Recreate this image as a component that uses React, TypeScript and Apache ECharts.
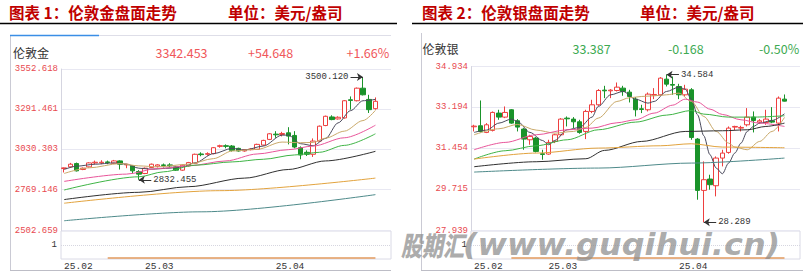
import React, { useEffect, useRef } from 'react';
import * as echarts from 'echarts';

const MONO = '"Liberation Mono", "DejaVu Sans Mono", monospace';
const CJK = '"Noto Sans CJK SC", "Noto Sans", sans-serif';

// ---------- categories (trading days) ----------
const goldDates = [
  '2025-02-12', '2025-02-13', '2025-02-14', '2025-02-17', '2025-02-18', '2025-02-19', '2025-02-20',
  '2025-02-21', '2025-02-24', '2025-02-25', '2025-02-26', '2025-02-27', '2025-02-28',
  '2025-03-03', '2025-03-04', '2025-03-05', '2025-03-06', '2025-03-07', '2025-03-10', '2025-03-11',
  '2025-03-12', '2025-03-13', '2025-03-14', '2025-03-17', '2025-03-18', '2025-03-19', '2025-03-20',
  '2025-03-21', '2025-03-24', '2025-03-25', '2025-03-26', '2025-03-27', '2025-03-28', '2025-03-31',
  '2025-04-01', '2025-04-02', '2025-04-03', '2025-04-04', '2025-04-07', '2025-04-08', '2025-04-09',
  '2025-04-10', '2025-04-11', '2025-04-14', '2025-04-15', '2025-04-16', '2025-04-17', '2025-04-21',
  '2025-04-22', '2025-04-23', '2025-04-24',
];
const silverDates = [
  '2025-02-13', '2025-02-14', '2025-02-17', '2025-02-18', '2025-02-19', '2025-02-20', '2025-02-21',
  '2025-02-24', '2025-02-25', '2025-02-26', '2025-02-27', '2025-02-28',
  '2025-03-03', '2025-03-04', '2025-03-05', '2025-03-06', '2025-03-07', '2025-03-10', '2025-03-11',
  '2025-03-12', '2025-03-13', '2025-03-14', '2025-03-17', '2025-03-18', '2025-03-19', '2025-03-20',
  '2025-03-21', '2025-03-24', '2025-03-25', '2025-03-26', '2025-03-27', '2025-03-28', '2025-03-31',
  '2025-04-01', '2025-04-02', '2025-04-03', '2025-04-04', '2025-04-07', '2025-04-08', '2025-04-09',
  '2025-04-10', '2025-04-11', '2025-04-14', '2025-04-15', '2025-04-16', '2025-04-17', '2025-04-18',
  '2025-04-21', '2025-04-22', '2025-04-23', '2025-04-24',
];
const padCats = ['pad-1', 'pad-2'];

// ---------- candles: [open, close, low, high] ----------
const goldOHLC = [
  [2905.6, 2909.9, 2879.8, 2912.1], [2916.4, 2933.6, 2912.1, 2942.2], [2937.9, 2890.6, 2886.3, 2944.3],
  [2899.2, 2907.8, 2894.9, 2912.1], [2916.4, 2942.2, 2912.1, 2946.5], [2942.2, 2946.5, 2933.6, 2957.2],
  [2942.2, 2946.5, 2933.6, 2959.4], [2948.6, 2944.3, 2933.6, 2957.2], [2940.0, 2955.1, 2935.7, 2961.5],
  [2955.1, 2933.6, 2899.2, 2959.4], [2929.3, 2933.6, 2907.8, 2935.7], [2922.8, 2890.6, 2873.4, 2927.1],
  [2886.3, 2869.1, 2832.455, 2894.9], [2873.4, 2907.8, 2869.1, 2912.1], [2912.1, 2933.6, 2907.8, 2937.9],
  [2920.7, 2929.3, 2912.1, 2933.6], [2929.3, 2925.0, 2912.1, 2937.9], [2929.3, 2922.8, 2912.1, 2940.0],
  [2916.4, 2894.9, 2890.6, 2922.8], [2894.9, 2927.1, 2890.6, 2933.6], [2922.8, 2944.3, 2918.5, 2948.6],
  [2940.0, 2998.1, 2935.7, 3002.4], [3000.2, 2995.9, 2985.2, 3011.0], [2998.1, 3002.4, 2989.5, 3011.0],
  [3002.4, 3041.0, 2998.1, 3045.3], [3049.6, 3053.9, 3041.0, 3060.4], [3053.9, 3049.6, 3036.7, 3062.5],
  [3051.8, 3023.8, 3015.3, 3058.2], [3036.7, 3019.6, 3015.3, 3041.0], [3019.6, 3028.1, 3015.3, 3032.4],
  [3028.1, 3032.4, 3023.8, 3036.7], [3030.3, 3062.5, 3026.0, 3066.8], [3058.2, 3088.3, 3053.9, 3092.6],
  [3094.8, 3131.3, 3090.5, 3135.6], [3129.2, 3124.9, 3105.5, 3148.5], [3127.0, 3133.5, 3114.1, 3144.2],
  [3137.8, 3116.3, 3062.5, 3174.3], [3120.6, 3045.3, 3036.7, 3148.5], [3041.0, 2993.8, 2965.8, 3049.6],
  [3011.0, 2998.1, 2987.3, 3023.8], [2998.1, 3084.0, 2980.9, 3101.2], [3084.0, 3180.8, 3079.7, 3185.1],
  [3185.1, 3245.2, 3180.8, 3249.5], [3240.9, 3223.8, 3219.5, 3251.7], [3228.1, 3238.8, 3223.8, 3245.2],
  [3234.5, 3346.3, 3230.2, 3350.6], [3352.7, 3348.4, 3288.2, 3374.2], [3346.3, 3427.9, 3342.0, 3432.2],
  [3427.9, 3385.0, 3380.7, 3500.12], [3354.9, 3288.2, 3266.7, 3385.0], [3294.7, 3342.453, 3288.2, 3367.8],
];
const silverOHLC = [
  [32.363, 32.392, 32.164, 32.448], [32.406, 32.164, 32.122, 33.485], [32.122, 32.448, 32.093, 32.519],
  [32.207, 32.974, 32.164, 33.017], [32.946, 32.775, 32.661, 33.088], [32.775, 32.974, 32.732, 33.230],
  [33.088, 32.519, 32.491, 33.116], [32.619, 32.349, 32.164, 32.690], [32.264, 31.838, 31.383, 32.306],
  [31.809, 31.951, 31.596, 32.022], [31.880, 31.312, 31.269, 31.923], [31.213, 31.184, 30.957, 31.383],
  [31.198, 31.696, 31.170, 31.809], [31.738, 32.022, 31.667, 32.065], [32.022, 32.690, 31.980, 32.732],
  [32.732, 32.704, 32.377, 32.803], [32.690, 32.576, 32.306, 32.775], [32.576, 32.122, 32.065, 32.661],
  [32.164, 33.017, 31.838, 33.088], [33.017, 33.301, 32.946, 33.514], [33.301, 33.911, 33.258, 33.968],
  [33.926, 33.897, 33.585, 34.110], [33.897, 33.926, 33.585, 33.968], [33.911, 34.053, 33.869, 34.252],
  [34.011, 33.869, 33.684, 34.110], [33.840, 33.656, 33.400, 33.940], [33.542, 33.088, 32.803, 33.627],
  [33.130, 33.102, 32.946, 33.301], [33.088, 33.755, 33.017, 33.826], [33.712, 33.741, 33.542, 34.011],
  [33.727, 34.437, 33.684, 34.480], [34.394, 34.181, 34.082, 34.584], [34.167, 34.139, 33.727, 34.508],
  [34.082, 33.727, 33.542, 34.195], [33.727, 33.968, 33.656, 34.153], [33.940, 31.909, 31.809, 34.011],
  [31.838, 29.650, 29.252, 31.880], [29.650, 30.105, 28.289, 30.886], [30.133, 29.892, 29.679, 30.318],
  [29.849, 31.028, 29.395, 31.099], [31.028, 31.241, 30.673, 31.383], [31.269, 32.306, 31.213, 32.377],
  [32.349, 32.377, 32.207, 32.406], [32.306, 32.335, 32.164, 32.406], [32.448, 32.775, 32.377, 33.159],
  [32.775, 32.633, 32.122, 33.017], [32.562, 32.619, 32.491, 32.690], [32.548, 32.690, 32.448, 33.088],
  [32.619, 32.562, 32.519, 33.201], [32.519, 33.585, 32.164, 33.656], [33.542, 33.457, 33.443, 33.741],
];

// ---------- moving averages, read at [category index, value] ----------
const goldMA5 = [[0, 2899.2], [2, 2920.7], [5, 2933.6], [8, 2942.2], [10, 2933.6], [12, 2907.8], [14, 2901.3],
  [17, 2907.8], [19, 2916.4], [21, 2942.2], [24, 3002.4], [27, 3036.7], [29, 3026.0], [32, 3051.8],
  [35, 3122.7], [36, 3122.7], [38, 3066.8], [40, 3053.9], [42, 3101.2], [44, 3202.3], [46, 3281.8],
  [48, 3346.3], [50, 3354.9]];
const goldMA10 = [[0, 2873.4], [4, 2909.9], [9, 2937.9], [12, 2922.8], [15, 2916.4], [20, 2933.6],
  [24, 2970.1], [27, 3019.6], [31, 3030.3], [35, 3077.6], [38, 3073.3], [40, 3075.4], [42, 3103.4],
  [45, 3148.5], [48, 3217.3], [50, 3283.9]];
const goldMA20 = [[0, 2821.8], [10, 2869.1], [15, 2905.6], [20, 2922.8], [26, 2955.1], [31, 3000.2],
  [36, 3028.1], [40, 3051.8], [45, 3105.5], [50, 3187.2]];
const goldMA30 = [[0, 2765.9], [12, 2851.9], [16, 2884.2], [21, 2927.1], [27, 2948.6], [32, 2965.8],
  [37, 2993.8], [41, 3011.0], [45, 3056.1], [50, 3131.3]];
const goldMA60 = [[0, 2703.6], [12, 2750.9], [20, 2787.4], [29, 2843.3], [36, 2899.2], [42, 2955.1], [50, 3017.4]];
const goldMA120 = [[0, 2680.0], [25, 2761.6], [50, 2843.3]];
const goldMA250 = [[0, 2566.0], [22, 2624.1], [50, 2735.8]];

const silverMA5 = [[0, 32.122], [2, 32.221], [4, 32.519], [6, 32.690], [7, 32.590], [9, 32.122], [11, 31.781],
  [12, 31.596], [13, 31.781], [15, 32.235], [17, 32.335], [19, 32.775], [20, 33.230], [22, 33.727],
  [24, 33.869], [26, 33.542], [28, 33.372], [29, 33.443], [31, 33.869], [33, 34.053], [34, 33.968],
  [35, 33.542], [36, 32.874], [37, 31.980], [38, 31.170], [39, 30.602], [40, 30.360], [41, 30.815],
  [42, 31.241], [43, 31.667], [44, 32.164], [45, 32.377], [46, 32.519], [48, 32.633], [50, 32.917]];
const silverMA10 = [[0, 32.022], [4, 32.278], [7, 32.462], [10, 32.221], [13, 32.093], [16, 32.164],
  [18, 32.335], [20, 32.732], [23, 33.443], [25, 33.599], [27, 33.656], [29, 33.684], [31, 33.727],
  [33, 33.798], [35, 33.443], [37, 32.803], [39, 32.164], [41, 31.667], [42, 31.497], [44, 31.383],
  [46, 31.738], [48, 32.164], [50, 32.761]];
const silverMA20 = [[0, 31.383], [5, 31.696], [10, 32.022], [15, 32.235], [19, 32.306], [23, 32.533],
  [26, 32.661], [29, 32.946], [32, 33.286], [34, 33.542], [36, 33.414], [38, 33.116], [40, 32.889],
  [43, 32.661], [46, 32.519], [50, 32.377]];
const silverMA30 = [[0, 30.985], [5, 31.340], [10, 31.553], [15, 31.809], [20, 32.235], [26, 32.562],
  [31, 32.860], [35, 33.059], [37, 32.903], [41, 32.775], [45, 32.775], [50, 32.832]];
const silverMA60 = [[0, 30.659], [10, 30.872], [18, 31.000], [21, 31.355], [27, 31.738], [34, 32.164],
  [40, 32.193], [44, 32.235], [47, 32.377], [50, 32.519]];
const silverMA120 = [[0, 30.985], [10, 31.241], [20, 31.454], [30, 31.553], [35, 31.639], [40, 31.497], [50, 31.468]];
const silverMA250 = [[0, 30.431], [20, 30.602], [35, 30.815], [50, 31.028]];

// lower indicator pane
const goldSubLine = [[7, 0.07], [50, 0.07]];
const silverSubLine = [[6, 0.07], [50, 0.07]];

// ---------- ticks, extremes, quotes ----------
const goldYTicks = [2502.659, 2769.146, 3030.303, 3291.461, 3552.618];
const silverYTicks = [27.939, 29.715, 31.454, 33.194, 34.934];
const subYTicks = [1];
const goldHigh = { idx: 48, value: 3500.12, from: 46 };
const goldLow = { idx: 12, value: 2832.455, from: 14 };
const silverHigh = { idx: 31, value: 34.584, from: 33 };
const silverLow = { idx: 37, value: 28.289, from: 39 };
const goldQuote = ['3342.453', '+54.648', '+1.66%'];
const silverQuote = ['33.387', '-0.168', '-0.50%'];

const UP = '#EE3F3F';
const DOWN = '#1A932A';
const MA_COLORS = ['#4A4A5C', '#C9A96A', '#E8559A', '#3FB446', '#303030', '#E2A33E', '#4E8A8A'];

function buildCats(dates: string[]) {
  return [...dates, ...padCats];
}

function xAxes(cats: string[], gridMain: number, gridSub: number) {
  const show = (i: number, v: string) =>
    !v.startsWith('pad') && (i === 0 || v.slice(0, 7) !== cats[i - 1].slice(0, 7));
  return [
    {
      type: 'category', gridIndex: gridMain, data: cats, boundaryGap: true,
      axisLine: { show: false }, axisTick: { show: false }, axisLabel: { show: false }, splitLine: { show: false },
    },
    {
      type: 'category', gridIndex: gridSub, data: cats, boundaryGap: true,
      axisLine: { show: false }, axisTick: { show: false }, splitLine: { show: false },
      axisLabel: {
        show: true, interval: show, align: 'left', margin: 2,
        color: '#333', fontFamily: MONO, fontSize: 9.5,
        formatter: (v: string) => (v.startsWith('pad') ? '' : v.slice(2, 4) + '.' + v.slice(5, 7)),
      },
    },
  ];
}

function yAxes(ticks: number[], gridMain: number, gridSub: number) {
  return [
    {
      type: 'value', gridIndex: gridMain, min: ticks[0], max: ticks[ticks.length - 1],
      axisLine: { show: true, lineStyle: { color: '#D5D5E0' } },
      axisTick: { show: false, customValues: ticks },
      splitLine: { show: true, lineStyle: { color: '#E8E8F2', width: 1 } },
      axisLabel: {
        customValues: ticks, color: '#E84A4F', fontFamily: MONO, fontSize: 9, margin: 3,
        formatter: (v: number) => v.toFixed(3),
      },
    },
    {
      type: 'value', gridIndex: gridSub, min: 0, max: 2,
      axisLine: { show: false },
      axisTick: { show: false, customValues: subYTicks },
      splitLine: { show: true, lineStyle: { color: '#D6D6E0', type: 'dotted' } },
      axisLabel: { customValues: subYTicks, color: '#333', fontFamily: MONO, fontSize: 9, margin: 4 },
    },
  ];
}

function candleSeries(data: number[][], xi: number, yi: number, hi: any, lo: any) {
  const fmt = (v: number) => v.toFixed(3);
  return {
    type: 'candlestick', data, xAxisIndex: xi, yAxisIndex: yi, barWidth: 5, z: 2, silent: true,
    itemStyle: { color: '#ffffff', color0: DOWN, borderColor: UP, borderColor0: DOWN, borderWidth: 1 },
    markLine: {
      silent: true, animation: false, symbol: ['none', 'arrow'], symbolSize: 6,
      lineStyle: { color: '#333', width: 1, type: 'solid' },
      label: { show: true, position: 'start', formatter: '{b}', color: '#333', fontFamily: MONO, fontSize: 9, distance: 2 },
      emphasis: { disabled: true },
      data: [
        [{ name: fmt(hi.value), coord: [hi.from, hi.value] }, { coord: [hi.idx, hi.value] }],
        [{ name: fmt(lo.value), coord: [lo.from, lo.value] }, { coord: [lo.idx, lo.value] }],
      ],
    },
  };
}

function maSeries(list: number[][][], xi: number, yi: number) {
  return list.map((data, k) => ({
    type: 'line', data, xAxisIndex: xi, yAxisIndex: yi, symbol: 'none', showSymbol: false,
    smooth: 0.3, smoothMonotone: 'x', silent: true, z: 3,
    lineStyle: { color: MA_COLORS[k], width: 1 }, itemStyle: { color: MA_COLORS[k] },
  }));
}

function subSeries(data: number[][], xi: number, yi: number) {
  return {
    type: 'line', data, xAxisIndex: xi, yAxisIndex: yi, symbol: 'none', silent: true,
    lineStyle: { color: '#E29A5E', width: 1.5 },
  };
}

const txt = (text: string, x: number, y: number, font: string, fill: string, extra: any = {}) => ({
  type: 'text', x, y, silent: true, z: 50,
  style: { text, font, fill, align: 'left', verticalAlign: 'middle' }, ...extra,
});
const ln = (x1: number, y1: number, x2: number, y2: number, stroke: string, lineWidth = 1) => ({
  type: 'line', silent: true, z: 40, shape: { x1, y1, x2, y2 }, style: { stroke, lineWidth },
});

function buildOption() {
  const gCats = buildCats(goldDates);
  const sCats = buildCats(silverDates);
  const titleFont = `bold 15.5px ${CJK}`;
  const titleColor = '#C00000';
  const quoteFont = `12.5px ${CJK}`;
  const wm = 'rgba(140,140,140,0.72)';
  return {
    animation: false,
    backgroundColor: '#ffffff',
    grid: [
      { left: 61, top: 69, width: 330, height: 161.5, outerBoundsMode: 'none' },
      { left: 61, top: 231, width: 330, height: 28, show: true, borderColor: '#DADAE6', borderWidth: 1, outerBoundsMode: 'none' },
      { left: 471, top: 66.5, width: 329, height: 164, outerBoundsMode: 'none' },
      { left: 471, top: 231, width: 329, height: 28, show: true, borderColor: '#DADAE6', borderWidth: 1, outerBoundsMode: 'none' },
    ],
    xAxis: [...xAxes(gCats, 0, 1), ...xAxes(sCats, 2, 3)],
    yAxis: [...yAxes(goldYTicks, 0, 1), ...yAxes(silverYTicks, 2, 3)],
    series: [
      candleSeries(goldOHLC, 0, 0, goldHigh, goldLow),
      ...maSeries([goldMA5, goldMA10, goldMA20, goldMA30, goldMA60, goldMA120, goldMA250], 0, 0),
      subSeries(goldSubLine, 1, 1),
      candleSeries(silverOHLC, 2, 2, silverHigh, silverLow),
      ...maSeries([silverMA5, silverMA10, silverMA20, silverMA30, silverMA60, silverMA120, silverMA250], 2, 2),
      subSeries(silverSubLine, 3, 3),
    ],
    graphic: [
      // titles
      txt('图表 1：伦敦金盘面走势', 9, 12, titleFont, titleColor),
      txt('单位：美元/盎司', 228, 12, titleFont, titleColor),
      ln(0, 23.5, 397, 23.5, '#000', 1.5),
      txt('图表 2：伦敦银盘面走势', 422, 12, titleFont, titleColor),
      txt('单位：美元/盎司', 640, 12, titleFont, titleColor),
      ln(412, 23.5, 803, 23.5, '#000', 1.5),
      // gold frame
      ln(10.5, 35, 10.5, 270, '#CACAD4'),
      ln(99, 35.5, 391, 35.5, '#DEDEE8'),
      ln(10, 35.5, 99, 35.5, '#3A8EE6', 1.5),
      ln(10, 270.5, 391, 270.5, '#BDBDC6', 1.2),
      // silver frame
      ln(421.5, 33, 421.5, 270, '#CACAD4'),
      ln(421, 270.5, 803, 270.5, '#BDBDC6', 1.2),
      // headers
      txt('伦敦金', 13, 52, `12px ${CJK}`, '#333'),
      txt(goldQuote[0], 155.5, 52, quoteFont, '#F0575A'),
      txt(goldQuote[1], 248, 52, quoteFont, '#F0575A'),
      txt(goldQuote[2], 346.5, 52, quoteFont, '#F0575A'),
      txt('伦敦银', 422.5, 48, `12px ${CJK}`, '#333'),
      txt(silverQuote[0], 572.5, 48, quoteFont, '#3DAA52'),
      txt(silverQuote[1], 668, 48, quoteFont, '#3DAA52'),
      txt(silverQuote[2], 759, 48, quoteFont, '#3DAA52'),
      // watermark
      txt('股期汇', 401, 244, `italic 900 27px ${CJK}`, wm, { scaleX: 0.78, z: 100 }),
      txt('(www.guqihui.cn)', 463, 244, 'italic bold 31px "DejaVu Sans"', wm, { scaleX: 1.03, z: 100 }),
    ],
  };
}

export default function App() {
  const ref = useRef<HTMLDivElement>(null);
  useEffect(() => {
    if (!ref.current) return;
    const chart = echarts.init(ref.current, null, { renderer: 'svg' });
    chart.setOption(buildOption() as any);
    return () => chart.dispose();
  }, []);
  return (
    <div
      ref={ref}
      style={{ position: 'fixed', left: 0, top: 0, width: 803, height: 275, background: '#fff' }}
    />
  );
}
